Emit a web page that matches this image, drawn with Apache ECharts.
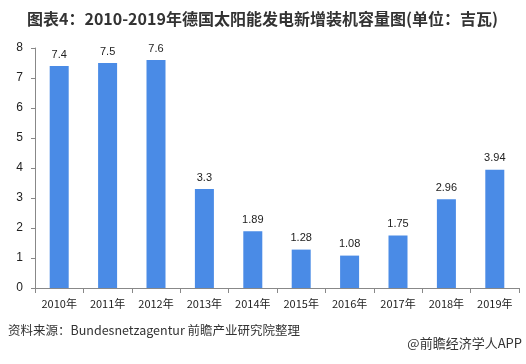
<!DOCTYPE html>
<html><head><meta charset="utf-8">
<script src="https://cdn.jsdelivr.net/npm/echarts@6/dist/echarts.min.js"></script>
<style>html,body{margin:0;padding:0;background:#fff}#c{width:526px;height:364px}</style>
</head><body><div id="c"></div>
<script>
const categories = ['2010年','2011年','2012年','2013年','2014年','2015年','2016年','2017年','2018年','2019年'];
const values = [7.4, 7.5, 7.6, 3.3, 1.89, 1.28, 1.08, 1.75, 2.96, 3.94];
const labels = ['7.4','7.5','7.6','3.3','1.89','1.28','1.08','1.75','2.96','3.94'];
const titleText = '图表4：2010-2019年德国太阳能发电新增装机容量图(单位：吉瓦)';
const sourceText = '资料来源：Bundesnetzagentur 前瞻产业研究院整理';
const brandText = '@前瞻经济学人APP';

const chart = echarts.init(document.getElementById('c'));
chart.setOption({
  backgroundColor: '#fff',
  animation: false,
  title: {
    text: titleText, left: 22, top: 6,
    textStyle: {fontSize: 16, fontWeight: 'bold', color: '#333', fontFamily: 'Noto Sans CJK SC'}
  },
  graphic: [
    {type: 'text', left: 8, top: 324, style: {text: sourceText, fill: '#333', font: '12.5px "Noto Sans CJK SC"'}},
    {type: 'text', right: 4, top: 337, style: {text: brandText, fill: '#333', font: '13px "Noto Sans CJK SC"'}}
  ],
  grid: {left: 35, right: 7, top: 48, bottom: 76},
  xAxis: {
    type: 'category', data: categories,
    axisLine: {lineStyle: {color: '#888'}},
    axisTick: {show: true, alignWithLabel: false, length: 5, lineStyle: {color: '#888'}},
    axisLabel: {color: '#222', fontSize: 11, margin: 10, fontFamily: 'Noto Sans CJK SC'}
  },
  yAxis: {
    type: 'value', min: 0, max: 8, interval: 1,
    axisLine: {show: true, lineStyle: {color: '#888'}},
    axisTick: {show: true, length: 4, lineStyle: {color: '#888'}},
    splitLine: {show: false},
    axisLabel: {color: '#222', fontSize: 12, margin: 12}
  },
  series: [{
    type: 'bar', data: values, barWidth: 19,
    itemStyle: {color: '#4a8be6'},
    label: {show: true, position: 'top', distance: 6, color: '#222', fontSize: 11,
      formatter: p => labels[p.dataIndex]}
  }]
});
</script></body></html>
